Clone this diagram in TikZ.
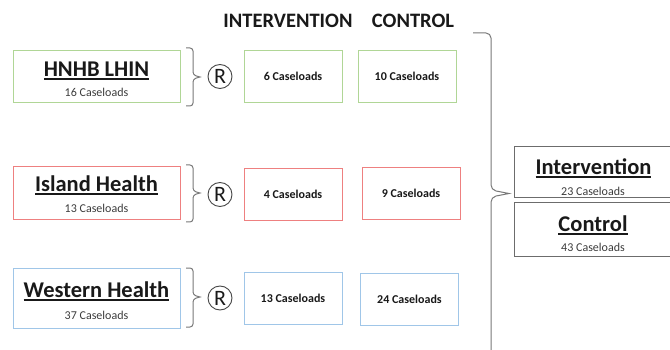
\documentclass[tikz,border=0pt]{standalone}
\usepackage{fontspec}
\setmainfont{Carlito}
\definecolor{grn}{RGB}{176,214,150}
\definecolor{rd}{RGB}{238,128,128}
\definecolor{blu}{RGB}{160,198,232}
\definecolor{brc}{RGB}{120,120,120}
\definecolor{txt}{RGB}{25,25,25}
\newcommand{\myul}[1]{{\setbox0\hbox{#1}\rlap{\rule[-3.2pt]{\wd0}{1.7pt}}\box0}}
\begin{document}
\begin{tikzpicture}[x=1pt,y=-1pt,
  sitebox/.style={draw=#1, line width=0.9pt, minimum width=167pt, inner sep=0pt},
  armbox/.style={draw=#1, line width=0.9pt, minimum width=98pt, minimum height=52pt, inner sep=0pt,
    font=\bfseries\fontsize{12}{14}\selectfont, text=txt},
  title/.style={anchor=base, inner sep=0pt, font=\bfseries\fontsize{22.5}{26}\selectfont, text=txt},
  sub/.style={anchor=base, inner sep=0pt, font=\fontsize{12}{14}\selectfont, text=txt!85},
  head/.style={anchor=base, inner sep=0pt, font=\bfseries\fontsize{20.5}{24}\selectfont, text=txt},
  rnd/.style={circle, draw=txt!80, line width=0.9pt, minimum size=24pt, inner sep=0pt,
    font=\fontsize{22}{24}\selectfont, text=txt},
  brace/.style={draw=brc, line width=1pt},
  rline/.style={draw=brc!90!black, line width=1pt}]
\useasboundingbox (0,0) rectangle (670,350);

% headers
\node[head] (hint) at (288,27.5) {INTERVENTION};
\node[head] (hctl) at (413,27.5) {CONTROL};

% site boxes
\node[sitebox=grn, minimum height=52pt] (hnhb) at (96.5,76) {};
\node[title] (hnhbt) at (96.5,77) {\myul{HNHB LHIN}};
\node[sub] (hnhbs) at (96.5,97) {16 Caseloads};

\node[sitebox=rd, minimum height=53pt] (isl) at (96.5,192.5) {};
\node[title] (islt) at (96.5,192) {\myul{Island Health}};
\node[sub] (isls) at (96.5,213) {13 Caseloads};

\node[sitebox=blu, minimum height=60pt] (wst) at (96.5,298.5) {};
\node[title] (wstt) at (96.5,298) {\myul{Western Health}};
\node[sub] (wsts) at (96.5,319) {37 Caseloads};

% small braces
\draw[brace, rounded corners=3pt] (186,48) -- (193,48) -- (193,75) [sharp corners] -- (200,77) [rounded corners=3pt] -- (193,79) -- (193,106) -- (186,106);
\draw[brace, rounded corners=3pt] (186,165) -- (193,165) -- (193,191) [sharp corners] -- (200,193) [rounded corners=3pt] -- (193,195) -- (193,222) -- (186,222);
\draw[brace, rounded corners=3pt] (186,268) -- (193,268) -- (193,295) [sharp corners] -- (200,297) [rounded corners=3pt] -- (193,299) -- (193,327) -- (186,327);

% randomisation circles
\node[rnd] (r1) at (220,76.5) {R};
\node[rnd] (r2) at (220,194.5) {R};
\node[rnd] (r3) at (220,298) {R};

% arm boxes
\node[armbox=grn] (i1) at (293,76) {6 Caseloads};
\node[armbox=grn] (c1) at (407,76.5) {10 Caseloads};
\node[armbox=rd] (i2) at (293,194) {4 Caseloads};
\node[armbox=rd] (c2) at (411,193) {9 Caseloads};
\node[armbox=blu] (i3) at (293,298.5) {13 Caseloads};
\node[armbox=blu] (c3) at (409.5,299.5) {24 Caseloads};

% big brace
\draw[brace, rounded corners=5pt] (473,33) -- (491,33) -- (491,190) [sharp corners] -- (509,193.5) [rounded corners=5pt] -- (491,197) -- (491,352);

% right boxes (open on the right edge)
\coordinate (ia) at (672,147);
\coordinate (ib) at (514,147);
\coordinate (ic) at (514,198);
\coordinate (id) at (672,198);
\draw[rline] (ia) -- (ib) -- (ic) -- (id);
\coordinate (ca) at (672,203);
\coordinate (cb) at (514,203);
\coordinate (cc) at (514,256);
\coordinate (cd) at (672,256);
\draw[rline] (ca) -- (cb) -- (cc) -- (cd);
\node[title] (intt) at (593.5,175) {\myul{Intervention}};
\node[sub] (ints) at (593,196) {23 Caseloads};
\node[title] (ctlt) at (593,232) {\myul{Control}};
\node[sub] (ctls) at (593,251.5) {43 Caseloads};
\end{tikzpicture}
\end{document}
